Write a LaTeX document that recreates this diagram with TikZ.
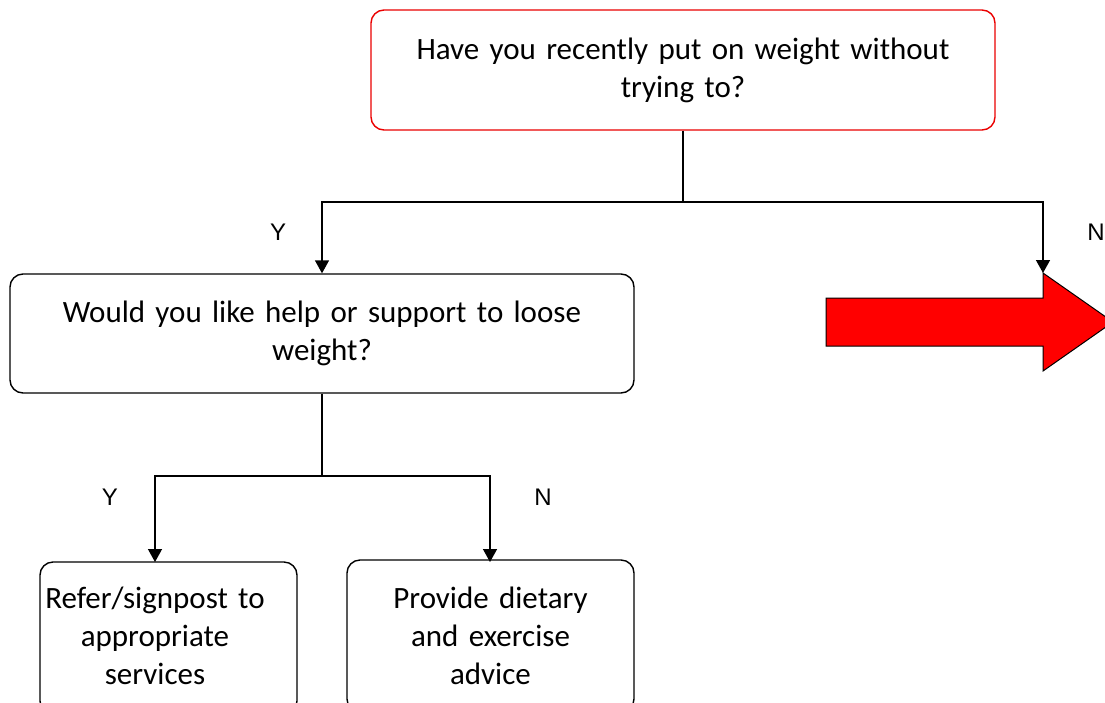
\documentclass[tikz,border=0pt]{standalone}
\usepackage{fontspec}
\setmainfont[WordSpace=0.85]{Carlito}
\newfontfamily\labelfont{Liberation Sans}
\usetikzlibrary{arrows.meta}
\definecolor{boxred}{RGB}{235,0,0}
\definecolor{arrowred}{RGB}{255,0,0}
\tikzset{
  qbox/.style={draw=black, line width=1.4pt, rounded corners=13pt, align=center,
    font=\fontsize{31}{38}\selectfont, inner sep=0pt},
  qtext/.style={align=center, font=\fontsize{31}{38}\selectfont, inner sep=0pt},
  conn/.style={line width=1.4pt, draw=black},
  arr/.style={conn, -{Triangle[width=14pt,length=13pt]}},
  yn/.style={font=\labelfont\fontsize{24}{28}\selectfont, inner sep=0pt},
}
\begin{document}
\begin{tikzpicture}[x=1pt,y=-1pt]
  \useasboundingbox (0,0) rectangle (1105,702);
  \clip (0,0) rectangle (1105,702);
  \fill[white] (0,0) rectangle (1105,702);

  % question boxes
  \node[qbox, draw=boxred, minimum width=624pt, minimum height=120pt, text width=600pt]
    (q1) at (683,70) {Have you recently put on weight without\\trying to?};
  \node[qbox, minimum width=624pt, minimum height=119pt, text width=600pt]
    (q2) at (322,333.5) {Would you like help or support to loose\\weight?};

  % outcome boxes (run past the lower edge)
  \node[qbox, minimum width=257pt, minimum height=152pt] (r1) at (168.5,638) {};
  \node[qtext, text width=250pt] (r1t) at (155,636) {Refer/signpost to\\appropriate\\services};
  \node[qbox, minimum width=287pt, minimum height=152pt, text width=270pt]
    (r2) at (490.5,636) {Provide dietary\\and exercise\\advice};

  % big red arrow
  \coordinate (nx) at (1043,273);
  \filldraw[fill=arrowred, draw=black, line width=1pt]
    (826,298) -- (1043,298) -- (nx) -- (1113,322) -- (1043,371)
    -- (1043,346) -- (826,346) -- cycle;

  % junctions
  \coordinate (j1) at (683,202);
  \coordinate (j2) at (322,476);

  % connectors
  \draw[conn] (q1.south) -- (j1);
  \draw[arr] (j1) -| (q2.north);
  \draw[arr] (j1) -| (nx);
  \draw[conn] (q2.south) -- (j2);
  \draw[arr] (j2) -| (155,562);
  \draw[arr] (j2) -| (490,562);

  % branch labels
  \node[yn] (y1) at (278,232) {Y};
  \node[yn] (n1) at (1096,232) {N};
  \node[yn] (y2) at (110,497) {Y};
  \node[yn] (n2) at (543,497) {N};
\end{tikzpicture}
\end{document}
